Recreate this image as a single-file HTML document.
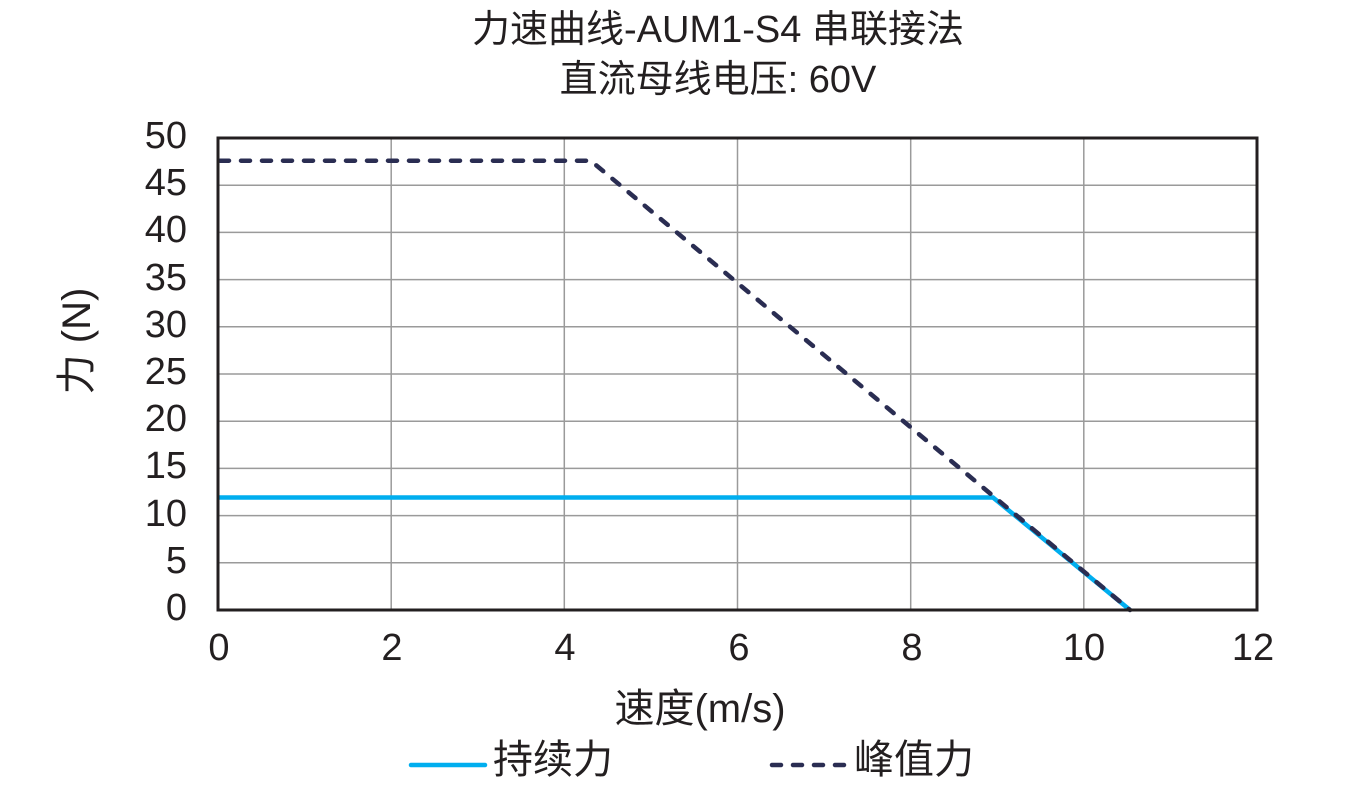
<!DOCTYPE html>
<html><head><meta charset="utf-8"><style>
html,body{margin:0;padding:0;background:#fff;}
svg{display:block;}
text{font-family:"Liberation Sans","Noto Sans CJK SC",sans-serif;fill:#231f20;}
</style></head><body>
<svg width="1348" height="798" viewBox="0 0 1348 798" xmlns="http://www.w3.org/2000/svg">
<rect width="1348" height="798" fill="#fff"/>
<text x="718" y="30" font-size="38" text-anchor="middle" dominant-baseline="central">力速曲线-AUM1-S4 串联接法</text>
<text x="718" y="80" font-size="38" text-anchor="middle" dominant-baseline="central">直流母线电压: 60V</text>
<g stroke="#9a9a9a" stroke-width="1.5">
<line x1="391.2" y1="138" x2="391.2" y2="610"/>
<line x1="564.3" y1="138" x2="564.3" y2="610"/>
<line x1="737.5" y1="138" x2="737.5" y2="610"/>
<line x1="910.7" y1="138" x2="910.7" y2="610"/>
<line x1="1083.8" y1="138" x2="1083.8" y2="610"/>
<line x1="218" y1="562.8" x2="1257" y2="562.8"/>
<line x1="218" y1="515.6" x2="1257" y2="515.6"/>
<line x1="218" y1="468.4" x2="1257" y2="468.4"/>
<line x1="218" y1="421.2" x2="1257" y2="421.2"/>
<line x1="218" y1="374" x2="1257" y2="374"/>
<line x1="218" y1="326.8" x2="1257" y2="326.8"/>
<line x1="218" y1="279.6" x2="1257" y2="279.6"/>
<line x1="218" y1="232.4" x2="1257" y2="232.4"/>
<line x1="218" y1="185.2" x2="1257" y2="185.2"/>
</g>
<polyline points="218,497.5 993,497.5 1130,610" fill="none" stroke="#00aeef" stroke-width="4.5"/>
<polyline points="220,160.7 590.7,160.7 1130,610" fill="none" stroke="#2a2d52" stroke-width="4.5" stroke-dasharray="9 12" stroke-linecap="round" stroke-linejoin="round"/>
<rect x="218" y="138" width="1039" height="472" fill="none" stroke="#231f20" stroke-width="3"/>
<g font-size="38" text-anchor="end" dominant-baseline="central">
<text x="187" y="608">0</text>
<text x="187" y="561">5</text>
<text x="187" y="514">10</text>
<text x="187" y="466">15</text>
<text x="187" y="419">20</text>
<text x="187" y="372">25</text>
<text x="187" y="325">30</text>
<text x="187" y="278">35</text>
<text x="187" y="230">40</text>
<text x="187" y="183">45</text>
<text x="187" y="136">50</text>
</g>
<g font-size="38" text-anchor="middle" dominant-baseline="central">
<text x="219" y="648">0</text>
<text x="392" y="648">2</text>
<text x="565" y="648">4</text>
<text x="739" y="648">6</text>
<text x="912" y="648">8</text>
<text x="1084" y="648">10</text>
<text x="1253" y="648">12</text>
</g>
<text x="0" y="0" font-size="40" text-anchor="middle" dominant-baseline="central" transform="translate(77,341) rotate(-90)">力 (N)</text>
<text x="700" y="709" font-size="40" text-anchor="middle" dominant-baseline="central">速度(m/s)</text>
<line x1="411" y1="765" x2="485" y2="765" stroke="#00aeef" stroke-width="4.5" stroke-linecap="round"/>
<text x="493" y="760" font-size="40" dominant-baseline="central">持续力</text>
<line x1="772" y1="765" x2="844" y2="765" stroke="#2a2d52" stroke-width="4.5" stroke-dasharray="9 12" stroke-linecap="round"/>
<text x="854" y="760" font-size="40" dominant-baseline="central">峰值力</text>
</svg>
</body></html>
